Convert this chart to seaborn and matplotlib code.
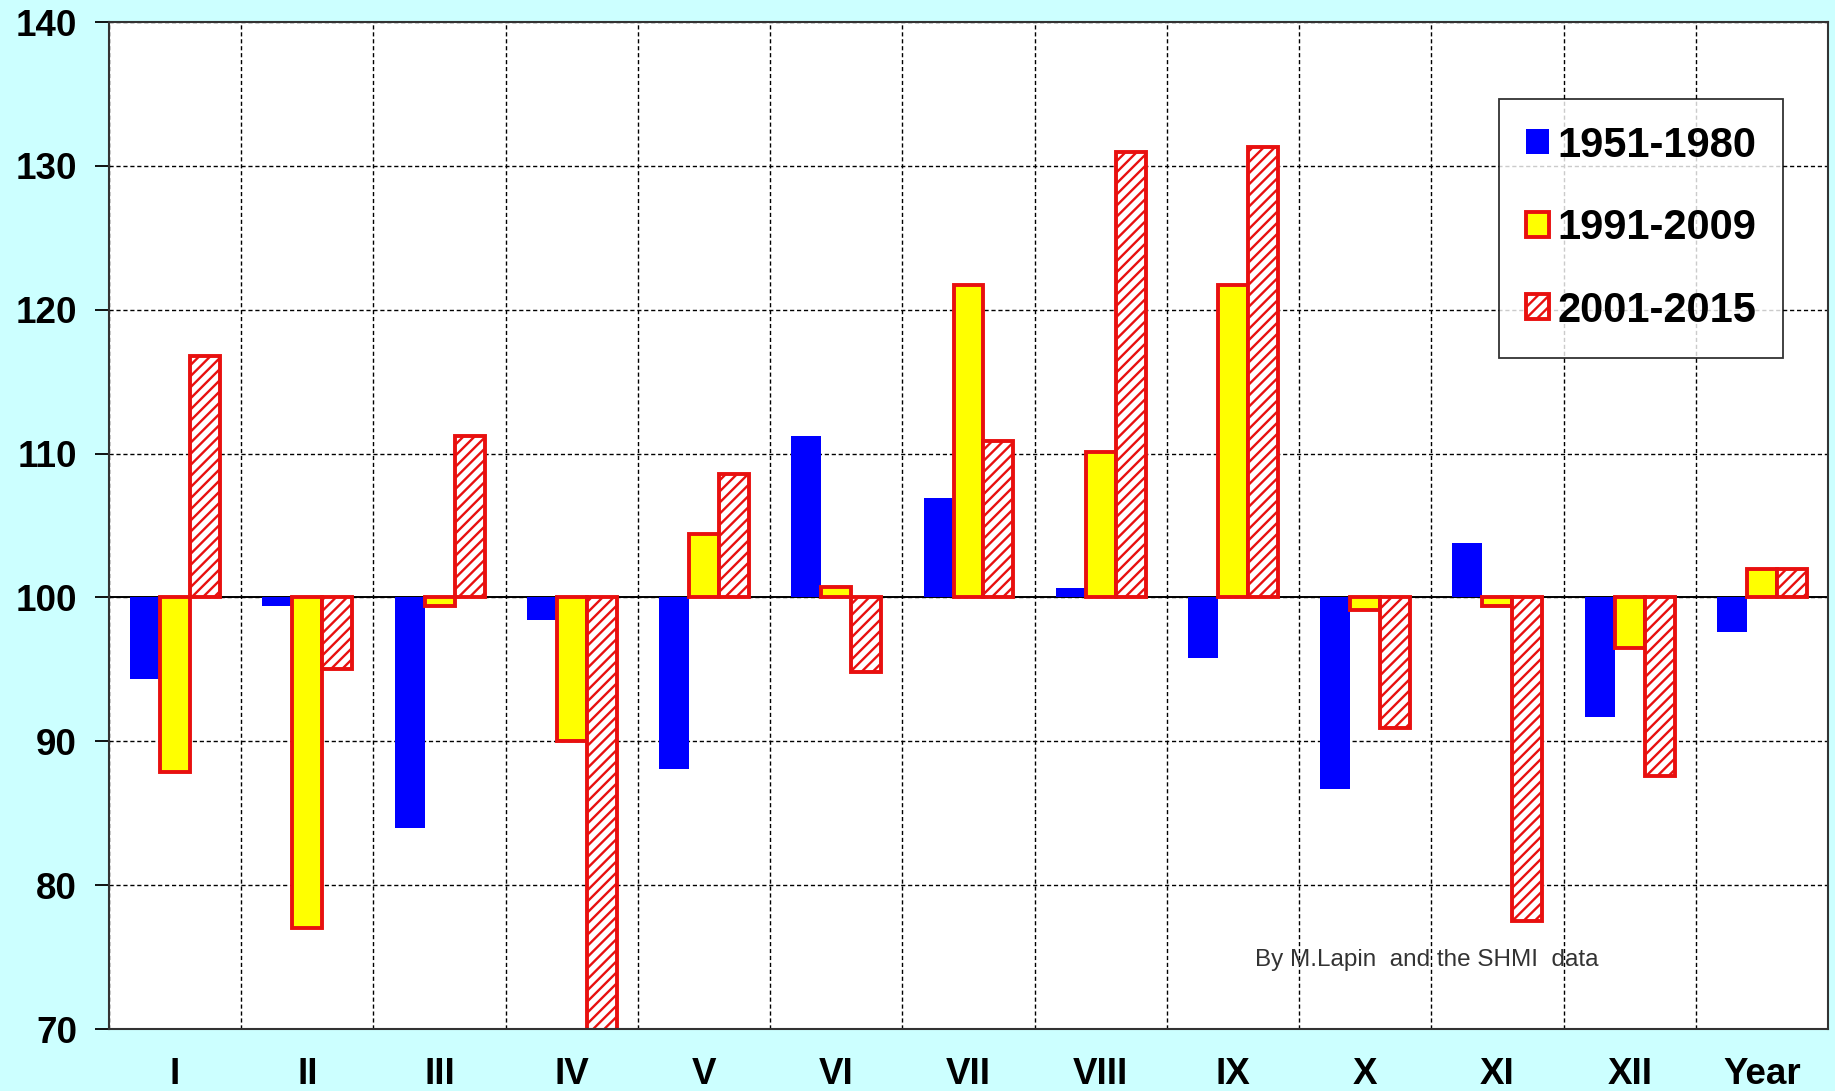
"""
Monthly precipitation relative to 1961-1990 normal (%), three periods.
Bars drawn from 100 % baseline with seaborn.
"""

import numpy as np
import pandas as pd
import matplotlib
matplotlib.use("Agg")
import matplotlib.pyplot as plt
import seaborn as sns

# ---- data ----
months = ["I", "II", "III", "IV", "V", "VI", "VII", "VIII", "IX", "X", "XI", "XII", "Year"]
periods = ["1951-1980", "1991-2009", "2001-2015"]

p1951_1980 = [94.3, 99.4, 84.0, 98.4, 88.1, 111.2, 106.9, 100.65, 95.8, 86.7, 103.8, 91.7, 97.6]
p1991_2009 = [87.9, 77.0, 99.4, 90.0, 104.4, 100.7, 121.7, 110.1, 121.7, 99.1, 99.4, 96.5, 102.0]
p2001_2015 = [116.8, 95.0, 111.2, 68.0, 108.6, 94.8, 110.9, 131.0, 131.3, 90.9, 77.5, 87.6, 102.0]

BASE = 100
y_ticks = [70, 80, 90, 100, 110, 120, 130, 140]

BG = "#CCFFFF"
RED = "#E8100F"
palette = {"1951-1980": "#0000FF", "1991-2009": "#FFFF00", "2001-2015": "white"}


def build_frame():
    rows = []
    for name, vals in zip(periods, [p1951_1980, p1991_2009, p2001_2015]):
        for m, v in zip(months, vals):
            rows.append({"month": m, "period": name, "dev": v - BASE})
    return pd.DataFrame(rows)


def main():
    df = build_frame()

    plt.rcParams["font.family"] = ["Liberation Sans", "DejaVu Sans"]
    plt.rcParams["hatch.linewidth"] = 1.7

    fig = plt.figure(figsize=(18.35, 10.91), dpi=100, facecolor=BG)
    ax = fig.add_axes([0.0594, 0.0568, 0.9368, 0.923])
    ax.set_facecolor("white")

    # bars start at the 100 % line
    sns.barplot(data=df, x="month", y="dev", hue="period", order=months,
                hue_order=periods, palette=palette, width=0.68,
                bottom=BASE, ax=ax, legend=False, linewidth=0, saturation=1)

    # style the second and third series
    for bar in ax.containers[1]:
        bar.set_edgecolor(RED)
        bar.set_linewidth(2.8)
    for bar in ax.containers[2]:
        bar.set_edgecolor(RED)
        bar.set_linewidth(2.8)
        bar.set_hatch("///")

    ax.set_ylim(70, 140)
    ax.set_xlim(-0.5, len(months) - 0.5)
    ax.set_yticks(y_ticks)
    ax.set_yticklabels([str(t) for t in y_ticks])
    ax.set_xlabel("")
    ax.set_ylabel("")

    # grid: category boundaries + every 10 %
    ax.set_xticks(np.arange(-0.5, len(months), 1), minor=True)
    ax.set_axisbelow(True)
    ax.grid(which="minor", axis="x", color="black", linestyle=(0, (3, 2)), linewidth=1)
    ax.grid(which="major", axis="y", color="black", linestyle=(0, (3, 2)), linewidth=1)
    ax.grid(which="major", axis="x", visible=False)
    ax.axhline(BASE, color="black", linewidth=1.4, zorder=0.8)

    ax.tick_params(axis="x", which="both", length=0, pad=20, labelsize=26.5)
    ax.tick_params(axis="y", length=10, width=1.3, pad=13, labelsize=26.5, direction="out")
    for lab in ax.get_xticklabels() + ax.get_yticklabels():
        lab.set_fontweight("bold")

    for sp in ax.spines.values():
        sp.set_color("#333333")
        sp.set_linewidth(1.5)

    leg = ax.legend(handles=list(ax.containers), labels=periods,
                    loc="upper right", bbox_to_anchor=(0.974, 0.924),
                    borderaxespad=0, frameon=True, fancybox=False,
                    prop={"size": 30, "weight": "bold"},
                    handlelength=0.55, handleheight=0.55, handletextpad=0.2,
                    labelspacing=1.02, borderpad=0.65)
    leg.get_frame().set_edgecolor("black")
    leg.get_frame().set_linewidth(1.3)

    ax.text(8.17, 74.8, "By M.Lapin  and the SHMI  data", fontsize=17.5,
            color="#333333", va="center", ha="left")

    fig.savefig("out.png", dpi=100, facecolor=BG)
    plt.close(fig)


if __name__ == "__main__":
    main()
